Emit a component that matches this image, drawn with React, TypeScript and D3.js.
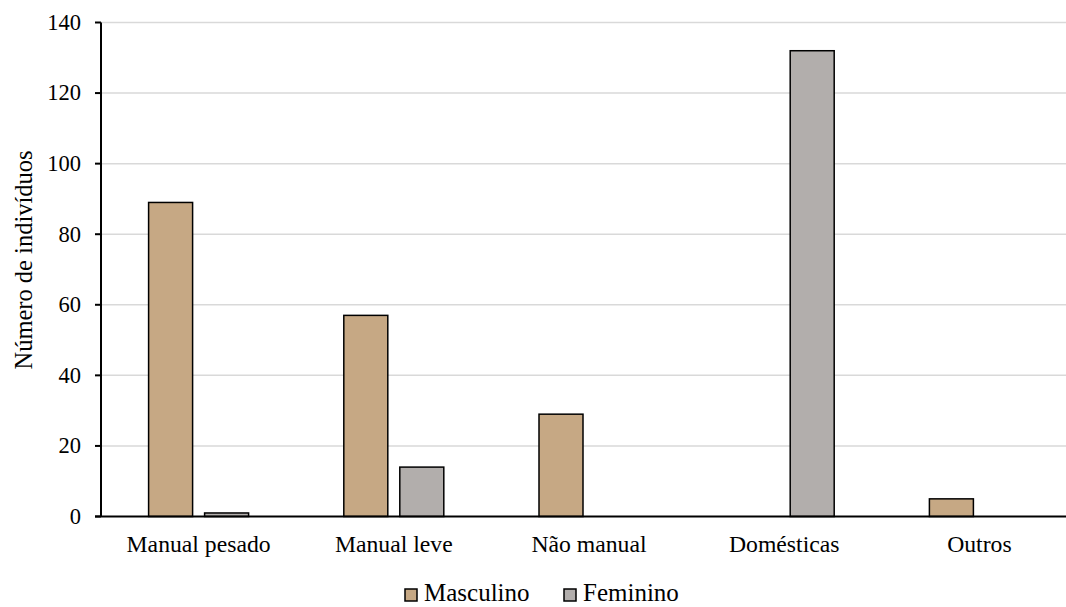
import React from "react";
import * as d3 from "d3";

// Occupational categories and counts per sex
const categories = ["Manual pesado", "Manual leve", "Não manual", "Domésticas", "Outros"];
const masculino = [89, 57, 29, 0, 5];
const feminino = [1, 14, 0, 132, 0];
const yTicks = [0, 20, 40, 60, 80, 100, 120, 140];
const seriesNames = ["Masculino", "Feminino"];
const seriesColors = ["#c6a884", "#b2aeac"];

const W = 1066;
const H = 607;
const left = 101;
const right = 1077;
const top = 22.5;
const bottom = 516.5;
const barW = 44;
const gap = 12;
const font = "'Times New Roman', 'Liberation Serif', serif";

export default function App() {
  const x = d3.scaleBand<string>().domain(categories).range([left, right]);
  const y = d3.scaleLinear().domain([0, 140]).range([bottom, top]);
  const series = [masculino, feminino];
  const txt = (size: number) => ({ fontFamily: font, fontSize: size }) as React.CSSProperties;

  return (
    <svg width={W} height={H} style={{ position: "absolute", left: 0, top: 0 }}>
      <rect width={W} height={H} fill="#fff" />
      {yTicks.filter((t) => t > 0).map((t) => (
        <line key={"g" + t} x1={left} x2={W} y1={y(t)} y2={y(t)} stroke="#d9d9d9" strokeWidth={1.5} />
      ))}
      {categories.map((c, i) => {
        const cx = (x(c) as number) + x.bandwidth() / 2;
        return series.map((s, k) => {
          const v = s[i];
          if (v <= 0) return null;
          const bx = k === 0 ? cx - gap / 2 - barW : cx + gap / 2;
          return (
            <rect
              key={c + k}
              x={bx}
              y={y(v)}
              width={barW}
              height={y(0) - y(v)}
              fill={seriesColors[k]}
              stroke="#000"
              strokeWidth={1.5}
            />
          );
        });
      })}
      {/* axes */}
      <line x1={left} x2={left} y1={top} y2={bottom} stroke="#000" strokeWidth={2} />
      <line x1={left - 6} x2={W} y1={bottom} y2={bottom} stroke="#000" strokeWidth={2} />
      {yTicks.map((t) => (
        <g key={"t" + t}>
          <line x1={left - 6} x2={left} y1={y(t)} y2={y(t)} stroke="#000" strokeWidth={2} />
          <text x={81} y={y(t)} dy="0.33em" textAnchor="end" style={txt(22.5)} fill="#000">
            {t}
          </text>
        </g>
      ))}
      {categories.map((c) => (
        <text
          key={"l" + c}
          x={(x(c) as number) + x.bandwidth() / 2}
          y={552}
          textAnchor="middle"
          style={txt(23.7)}
          fill="#000"
        >
          {c}
        </text>
      ))}
      <text
        transform="translate(32, 260) rotate(-90)"
        textAnchor="middle"
        style={txt(24.5)}
        fill="#000"
      >
        Número de indivíduos
      </text>
      {/* legend */}
      {seriesNames.map((n, k) => {
        const lx = k === 0 ? 405 : 564;
        return (
          <g key={n}>
            <rect x={lx} y={589} width={12} height={12} fill={seriesColors[k]} stroke="#000" strokeWidth={1.5} />
            <text x={lx + 19} y={601} style={txt(25)} fill="#000">
              {n}
            </text>
          </g>
        );
      })}
    </svg>
  );
}
